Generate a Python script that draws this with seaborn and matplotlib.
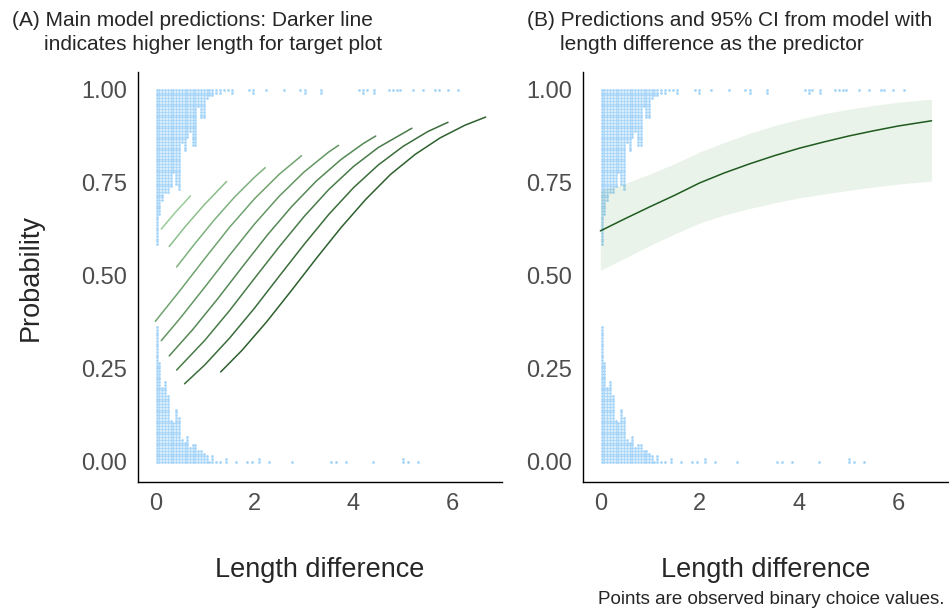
import matplotlib
matplotlib.use("Agg")
import matplotlib.pyplot as plt
import pandas as pd
import seaborn as sns

# observed binary choices, binned as in a dotplot: bin centre and dot count
ZERO_X = [0.03, 0.08, 0.14, 0.20, 0.25, 0.31, 0.36, 0.42, 0.48, 0.53, 0.59,
          0.64, 0.70, 0.76, 0.81, 0.87, 0.92, 0.98, 1.04, 1.09, 1.15, 1.22,
          1.30, 1.42, 1.62, 1.85, 1.95, 2.10, 2.30, 2.75, 3.55, 3.65, 3.85,
          4.40, 5.00, 5.10, 5.30]
ZERO_N = [50, 37, 28, 30, 25, 16, 15, 20, 17, 9, 8,
          10, 6, 7, 7, 5, 5, 4, 3, 1, 3, 1,
          1, 2, 1, 1, 1, 2, 1, 1, 1, 1, 1,
          1, 2, 1, 1]
ONE_X = [0.03, 0.08, 0.14, 0.20, 0.25, 0.31, 0.36, 0.42, 0.48, 0.53, 0.59,
         0.64, 0.70, 0.76, 0.81, 0.87, 0.92, 0.98, 1.04, 1.09, 1.15, 1.22,
         1.30, 1.38, 1.47, 1.55, 1.90, 1.98, 2.23, 2.60, 2.92, 3.02, 3.35,
         4.12, 4.20, 4.27, 4.42, 4.72, 4.80, 4.88, 4.95, 5.20, 5.40, 5.65,
         5.72, 5.90, 6.12]
ONE_N = [57, 46, 41, 38, 38, 36, 31, 35, 37, 20, 23,
         18, 16, 21, 21, 7, 11, 11, 4, 3, 3, 2,
         2, 1, 1, 2, 1, 2, 1, 1, 1, 2, 2,
         1, 2, 1, 2, 1, 1, 1, 1, 1, 1, 1,
         1, 1, 1]

# panel A: predicted probability for each target-plot length (light -> dark)
A1_X = [0.12, 0.40, 0.71]
A1_Y = [0.626, 0.670, 0.715]
A2_X = [0.28, 0.60, 1.00, 1.44]
A2_Y = [0.579, 0.632, 0.693, 0.754]
A3_X = [0.43, 0.80, 1.20, 1.60, 2.00, 2.22]
A3_Y = [0.524, 0.587, 0.652, 0.712, 0.765, 0.791]
A4_X = [0.00, 0.50, 1.00, 1.50, 2.00, 2.50, 2.95]
A4_Y = [0.378, 0.461, 0.547, 0.631, 0.707, 0.773, 0.823]
A5_X = [0.12, 0.50, 1.00, 1.50, 2.00, 2.50, 3.00, 3.50, 3.70]
A5_Y = [0.326, 0.386, 0.470, 0.556, 0.639, 0.714, 0.779, 0.833, 0.851]
A6_X = [0.28, 0.75, 1.25, 1.75, 2.25, 2.75, 3.25, 3.75, 4.20, 4.45]
A6_Y = [0.285, 0.355, 0.437, 0.523, 0.608, 0.686, 0.755, 0.813, 0.856, 0.876]
A7_X = [0.43, 1.00, 1.50, 2.00, 2.50, 3.00, 3.50, 4.00, 4.50, 5.18]
A7_Y = [0.247, 0.327, 0.407, 0.493, 0.578, 0.659, 0.732, 0.794, 0.845, 0.897]
A8_X = [0.59, 1.00, 1.50, 2.00, 2.50, 3.00, 3.50, 4.00, 4.50, 5.00, 5.50, 5.91]
A8_Y = [0.210, 0.261, 0.333, 0.413, 0.499, 0.584, 0.665, 0.737, 0.798, 0.848,
        0.888, 0.913]
A9_X = [1.32, 1.75, 2.25, 2.75, 3.25, 3.75, 4.25, 4.75, 5.25, 5.75, 6.25, 6.67]
A9_Y = [0.242, 0.300, 0.377, 0.461, 0.547, 0.630, 0.706, 0.773, 0.827, 0.871,
        0.905, 0.927]

# panel B: prediction and 95% CI
B_X = [0.0, 0.5, 1.0, 1.5, 2.0, 2.5, 3.0, 3.5, 4.0, 4.5, 5.0, 5.5, 6.0, 6.67]
B_FIT = [0.621, 0.654, 0.686, 0.717, 0.750, 0.777, 0.801, 0.823, 0.843, 0.860,
         0.876, 0.890, 0.903, 0.917]
B_LOW = [0.515, 0.548, 0.582, 0.613, 0.642, 0.664, 0.681, 0.696, 0.710, 0.720,
         0.730, 0.739, 0.747, 0.755]
B_HIGH = [0.731, 0.748, 0.774, 0.802, 0.833, 0.859, 0.883, 0.904, 0.921, 0.936,
          0.948, 0.958, 0.967, 0.975]

DOT_STEP = 0.0074
DOT_COLOR = "#a6d4f8"
TICK_COLOR = "#4d4d4d"


def stack_dots(xs, ns, base, step):
    px, py = [], []
    for x, n in zip(xs, ns):
        for k in range(n):
            px.append(x)
            py.append(base + step * k)
    return pd.DataFrame({"x": px, "y": py})


def style_axis(ax):
    ax.set_xlim(-0.35, 7.0)
    ax.set_ylim(-0.054, 1.048)
    ax.set_xticks([0, 2, 4, 6])
    ax.set_yticks([0, 0.25, 0.5, 0.75, 1.0])
    ax.set_yticklabels(["0.00", "0.25", "0.50", "0.75", "1.00"])
    ax.tick_params(length=0, labelsize=17, colors=TICK_COLOR, pad=8)
    for side in ["top", "right"]:
        ax.spines[side].set_visible(False)
    for side in ["left", "bottom"]:
        ax.spines[side].set_color("black")
        ax.spines[side].set_linewidth(1.0)
    ax.set_xlabel("Length difference", fontsize=19.5, labelpad=30)
    ax.grid(False)


def draw_dots(ax):
    zeros = stack_dots(ZERO_X, ZERO_N, 0.0, DOT_STEP)
    ones = stack_dots(ONE_X, ONE_N, 1.0, -DOT_STEP)
    dots = pd.concat([zeros, ones])
    sns.scatterplot(data=dots, x="x", y="y", ax=ax, s=4, marker="o",
                    color=DOT_COLOR, linewidth=0, legend=False)


def main() -> None:
    sns.set_theme(style="white")
    plt.rcParams["font.family"] = ["Liberation Sans", "DejaVu Sans"]

    fig = plt.figure(figsize=(9.49, 6.10), dpi=100)
    ax_a = fig.add_axes([0.1454, 0.2098, 0.3836, 0.6721])
    ax_b = fig.add_axes([0.6143, 0.2098, 0.3846, 0.6721])

    # panel A
    draw_dots(ax_a)
    lines = [(A1_X, A1_Y), (A2_X, A2_Y), (A3_X, A3_Y), (A4_X, A4_Y),
             (A5_X, A5_Y), (A6_X, A6_Y), (A7_X, A7_Y), (A8_X, A8_Y),
             (A9_X, A9_Y)]
    greens = sns.blend_palette(["#98cc98", "#2e602e"], len(lines))
    for (lx, ly), col in zip(lines, greens):
        sns.lineplot(x=lx, y=ly, ax=ax_a, color=col, linewidth=1.1,
                     sort=False, estimator=None)
    style_axis(ax_a)
    ax_a.set_ylabel("Probability", fontsize=19.5, labelpad=27)

    # panel B
    draw_dots(ax_b)
    ax_b.fill_between(B_X, B_LOW, B_HIGH, color="#2e8b2e", alpha=0.1,
                      linewidth=0)
    sns.lineplot(x=B_X, y=B_FIT, ax=ax_b, color="#1f5a1f", linewidth=1.1,
                 sort=False, estimator=None)
    style_axis(ax_b)
    ax_b.set_ylabel("")

    title_font = dict(fontsize=15, va="center")
    fig.text(12 / 949, 1 - 20 / 610, "(A) Main model predictions: Darker line",
             **title_font)
    fig.text(44 / 949, 1 - 45 / 610, "indicates higher length for target plot",
             **title_font)
    fig.text(527 / 949, 1 - 20 / 610,
             "(B) Predictions and 95% CI from model with", **title_font)
    fig.text(560 / 949, 1 - 45 / 610, "length difference as the predictor",
             **title_font)
    fig.text(945 / 949, 1 - 600 / 610,
             "Points are observed binary choice values.",
             fontsize=13.5, ha="right", va="center")

    fig.savefig("out.png", dpi=100)
    plt.close(fig)


if __name__ == "__main__":
    main()
